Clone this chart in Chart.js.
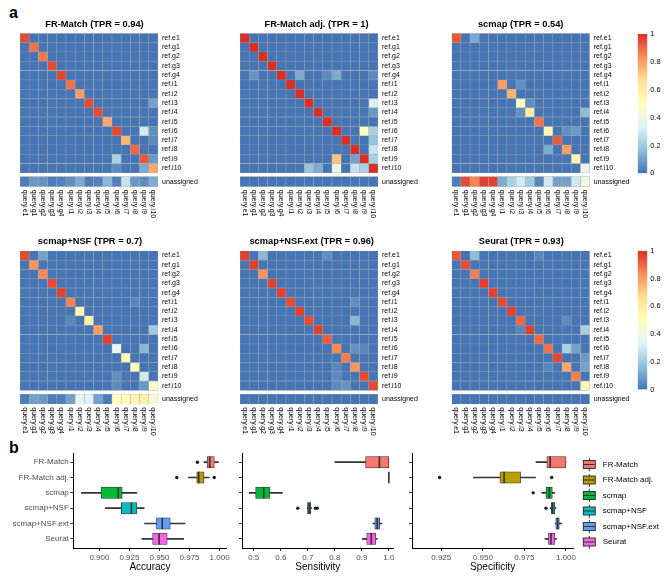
<!DOCTYPE html>
<html>
<head>
<meta charset="utf-8">
<script src="https://cdn.jsdelivr.net/npm/chart.js@4.4.1/dist/chart.umd.min.js"></script>
<style>
  body { margin: 0; width: 666px; height: 576px; position: relative; overflow: hidden; background: #fff; font-family: 'Liberation Sans', Arial, sans-serif; }
  canvas { position: absolute; }
  .tag { position: absolute; font-weight: bold; font-size: 16px; line-height: 16px; }
</style>
</head>
<body>
<div class="tag" style="left:9px;top:5px">a</div>
<div class="tag" style="left:9px;top:440px">b</div>
<script>
/* heatmap labels */
const queries = ['query.e1', 'query.g1', 'query.g2', 'query.g3', 'query.g4', 'query.i1', 'query.i2', 'query.i3',
  'query.i4', 'query.i5', 'query.i6', 'query.i7', 'query.i8', 'query.i9', 'query.i10'];
const refs = ['ref.e1', 'ref.g1', 'ref.g2', 'ref.g3', 'ref.g4', 'ref.i1', 'ref.i2', 'ref.i3',
  'ref.i4', 'ref.i5', 'ref.i6', 'ref.i7', 'ref.i8', 'ref.i9', 'ref.i10'];
const rowLabels = [...refs, 'unassigned'];
const colorbarTicks = [0, 0.2, 0.4, 0.6, 0.8, 1];

/* matching proportions, rows = ref, cols = query */
const frMatch = [
  [.95, 0, 0, 0, 0, 0, 0, 0, 0, 0, 0, 0, 0, 0, 0],
  [0, .88, 0, 0, 0, 0, 0, 0, 0, 0, 0, 0, 0, 0, 0],
  [0, 0, .87, 0, 0, 0, 0, 0, 0, 0, 0, 0, 0, 0, 0],
  [0, 0, 0, .95, 0, 0, 0, 0, 0, 0, 0, 0, 0, 0, 0],
  [0, 0, 0, 0, .96, 0, 0, 0, 0, 0, 0, 0, 0, 0, 0],
  [0, 0, 0, 0, 0, .88, 0, 0, 0, 0, 0, 0, 0, 0, 0],
  [0, 0, 0, 0, 0, 0, .8, 0, 0, 0, 0, 0, 0, 0, 0],
  [0, 0, 0, 0, 0, 0, 0, .95, 0, 0, 0, 0, 0, 0, .1],
  [0, 0, 0, 0, 0, 0, 0, 0, .95, 0, 0, 0, 0, 0, 0],
  [0, 0, 0, 0, 0, 0, 0, 0, 0, .78, 0, 0, 0, 0, 0],
  [0, 0, 0, 0, 0, 0, 0, 0, 0, 0, .95, 0, 0, .3, .06],
  [0, 0, 0, 0, 0, 0, 0, 0, 0, 0, 0, .75, 0, 0, .05],
  [0, 0, 0, 0, 0, 0, 0, 0, 0, 0, 0, 0, .9, 0, 0],
  [0, 0, 0, 0, 0, 0, 0, 0, 0, 0, .22, 0, 0, .93, .08],
  [0, 0, 0, 0, 0, 0, 0, 0, 0, 0, .05, 0, 0, .12, .78],
];
const frMatchUn = [.02, .08, .07, .02, .03, .06, .12, .02, .03, .15, .03, .28, .08, .05, .12];

const frAdj = [
  [1, 0, 0, 0, 0, 0, 0, 0, 0, 0, 0, 0, 0, 0, 0],
  [0, 1, 0, 0, 0, 0, 0, 0, 0, 0, 0, 0, 0, 0, 0],
  [0, 0, 1, 0, 0, 0, 0, 0, 0, 0, 0, 0, 0, 0, 0],
  [0, 0, 0, 1, 0, 0, 0, 0, 0, 0, 0, 0, 0, 0, 0],
  [0, .07, 0, 0, 1, 0, .12, 0, 0, .05, .12, 0, 0, 0, .05],
  [0, 0, 0, 0, 0, 1, 0, 0, 0, 0, 0, 0, 0, 0, 0],
  [0, 0, 0, 0, 0, 0, 1, 0, 0, 0, 0, 0, 0, 0, 0],
  [0, 0, 0, 0, 0, 0, 0, 1, 0, 0, 0, 0, 0, 0, .32],
  [0, 0, 0, 0, 0, 0, 0, 0, 1, 0, 0, 0, 0, 0, .08],
  [0, 0, 0, 0, 0, 0, 0, 0, 0, 1, 0, 0, 0, 0, 0],
  [0, 0, 0, 0, 0, 0, 0, 0, 0, 0, 1, 0, 0, .5, .22],
  [0, 0, 0, 0, 0, 0, 0, 0, 0, 0, 0, 1, 0, 0, .18],
  [0, 0, 0, 0, 0, 0, 0, 0, 0, 0, 0, 0, 1, 0, .28],
  [0, 0, 0, 0, 0, 0, 0, 0, 0, 0, .72, 0, .1, 1, .22],
  [0, 0, 0, 0, 0, 0, 0, .18, .12, 0, .38, 0, .28, .22, 1],
];
const frAdjUn = [0, 0, 0, 0, 0, 0, 0, 0, 0, 0, 0, 0, 0, 0, 0];

const scmap = [
  [.93, 0, .12, 0, 0, 0, 0, 0, 0, 0, 0, 0, 0, 0, 0],
  [0, 0, 0, 0, 0, 0, 0, 0, 0, 0, 0, 0, 0, 0, 0],
  [0, 0, 0, 0, 0, 0, 0, 0, 0, 0, 0, 0, 0, 0, 0],
  [0, 0, 0, 0, 0, 0, 0, 0, 0, 0, 0, 0, 0, 0, 0],
  [0, 0, 0, 0, 0, 0, 0, 0, 0, 0, 0, 0, 0, 0, 0],
  [0, 0, 0, 0, 0, .8, 0, .06, 0, 0, 0, 0, 0, 0, 0],
  [0, 0, 0, 0, 0, 0, .76, 0, 0, 0, 0, 0, 0, 0, 0],
  [0, 0, 0, 0, 0, 0, 0, .5, .06, 0, 0, 0, 0, 0, 0],
  [0, 0, 0, 0, 0, 0, 0, .06, .6, 0, 0, 0, 0, 0, .16],
  [0, 0, 0, 0, 0, 0, 0, 0, 0, .88, 0, 0, 0, 0, 0],
  [0, 0, 0, 0, 0, 0, 0, 0, 0, 0, .55, 0, .06, .08, 0],
  [0, 0, 0, 0, 0, 0, 0, 0, 0, 0, 0, .92, 0, 0, 0],
  [0, 0, 0, 0, 0, 0, 0, 0, 0, 0, .12, 0, .8, 0, 0],
  [0, 0, 0, 0, 0, 0, 0, 0, 0, 0, 0, 0, 0, .55, 0],
  [0, 0, 0, 0, 0, 0, 0, 0, 0, 0, 0, 0, 0, 0, .38],
];
const scmapUn = [.02, .95, .85, .97, .97, .12, .22, .3, .2, .04, .3, .1, .1, .3, .4];

const scmapNsf = [
  [.95, 0, .1, 0, 0, 0, 0, 0, 0, 0, 0, 0, 0, 0, 0],
  [0, .82, 0, 0, 0, 0, 0, 0, 0, 0, 0, 0, 0, 0, 0],
  [0, 0, .84, 0, 0, 0, 0, 0, 0, 0, 0, 0, 0, 0, 0],
  [0, 0, 0, .95, 0, 0, 0, 0, 0, 0, 0, 0, 0, 0, 0],
  [0, 0, 0, 0, .97, 0, 0, 0, 0, 0, 0, 0, 0, 0, 0],
  [0, 0, 0, 0, 0, .85, 0, 0, 0, 0, 0, 0, .04, 0, 0],
  [0, 0, 0, 0, 0, 0, .55, 0, 0, 0, 0, 0, 0, 0, 0],
  [0, 0, 0, 0, 0, .04, 0, .57, 0, 0, 0, 0, 0, 0, 0],
  [0, 0, 0, 0, 0, 0, 0, 0, .8, 0, 0, 0, 0, 0, .2],
  [0, 0, 0, 0, 0, 0, 0, 0, 0, .97, 0, 0, 0, 0, 0],
  [0, 0, 0, 0, 0, 0, 0, 0, 0, 0, .36, 0, 0, .15, 0],
  [0, 0, 0, 0, 0, 0, 0, 0, 0, 0, 0, .52, 0, 0, 0],
  [0, 0, 0, 0, 0, 0, 0, 0, 0, 0, 0, 0, .52, 0, 0],
  [0, 0, 0, 0, 0, 0, 0, 0, 0, 0, .06, 0, 0, .3, 0],
  [0, 0, 0, 0, 0, 0, 0, 0, 0, 0, .05, 0, 0, .08, .47],
];
const scmapNsfUn = [.02, .1, .08, .02, .02, .1, .35, .33, .1, .02, .5, .52, .55, .58, .45];

const scmapNsfExt = [
  [.97, 0, .15, 0, 0, 0, 0, 0, 0, .06, 0, 0, 0, 0, 0],
  [0, .97, 0, 0, 0, 0, 0, 0, 0, 0, 0, 0, 0, 0, 0],
  [0, 0, .82, 0, 0, 0, 0, 0, 0, 0, 0, 0, 0, 0, 0],
  [0, 0, 0, .97, 0, 0, 0, 0, 0, 0, 0, 0, 0, 0, 0],
  [0, 0, 0, 0, .97, 0, 0, 0, 0, 0, 0, 0, 0, 0, 0],
  [0, 0, 0, 0, 0, .95, 0, 0, 0, 0, 0, 0, .06, 0, 0],
  [0, 0, 0, 0, 0, 0, .97, 0, 0, 0, 0, 0, 0, 0, 0],
  [0, 0, 0, 0, 0, 0, 0, .95, 0, 0, 0, 0, .15, 0, 0],
  [0, 0, 0, 0, 0, 0, 0, 0, .97, 0, 0, 0, 0, 0, 0],
  [0, 0, 0, 0, 0, 0, 0, 0, 0, .92, 0, 0, 0, 0, 0],
  [0, 0, 0, 0, 0, 0, 0, 0, 0, 0, .84, 0, .07, .04, 0],
  [0, 0, 0, 0, 0, 0, 0, 0, 0, 0, 0, .86, 0, 0, 0],
  [0, 0, 0, 0, 0, 0, 0, 0, 0, 0, .04, 0, .82, 0, 0],
  [0, 0, 0, 0, 0, 0, 0, 0, 0, 0, .05, 0, 0, .95, 0],
  [0, 0, 0, 0, 0, 0, 0, 0, 0, 0, .05, .07, 0, 0, .95],
];
const scmapNsfExtUn = [0, 0, 0, 0, 0, 0, 0, 0, 0, 0, 0, 0, 0, 0, 0];

const seurat = [
  [.93, 0, .16, 0, 0, 0, 0, 0, 0, .04, 0, 0, 0, 0, 0],
  [0, .95, 0, 0, 0, 0, 0, 0, 0, 0, 0, 0, 0, 0, 0],
  [0, 0, .86, 0, 0, 0, 0, 0, 0, 0, 0, 0, 0, 0, 0],
  [0, 0, 0, .97, 0, 0, 0, 0, 0, 0, 0, 0, 0, 0, 0],
  [0, 0, 0, 0, .97, 0, 0, 0, 0, 0, 0, 0, 0, 0, 0],
  [0, 0, 0, 0, 0, .95, 0, 0, 0, 0, 0, 0, 0, 0, 0],
  [0, 0, 0, 0, 0, 0, .97, 0, 0, 0, 0, 0, 0, 0, 0],
  [0, 0, 0, 0, 0, 0, 0, .9, 0, 0, 0, 0, .05, 0, 0],
  [0, 0, 0, 0, 0, 0, 0, .04, .97, 0, 0, 0, 0, 0, .22],
  [0, 0, 0, 0, 0, 0, 0, 0, 0, .9, 0, 0, 0, 0, 0],
  [0, 0, 0, 0, 0, 0, 0, 0, 0, 0, .88, 0, .22, .1, 0],
  [0, 0, 0, 0, 0, 0, 0, 0, 0, 0, 0, .96, 0, 0, .08],
  [0, 0, 0, 0, 0, 0, 0, 0, 0, 0, .04, 0, .78, 0, .1],
  [0, 0, 0, 0, 0, 0, 0, 0, 0, 0, 0, 0, 0, .86, 0],
  [0, 0, 0, 0, 0, 0, 0, 0, 0, 0, 0, 0, 0, 0, .55],
];
const seuratUn = [0, 0, 0, 0, 0, 0, 0, 0, 0, 0, 0, 0, 0, 0, 0];

/* panel b: per-method box stats */
const methods = ['FR-Match', 'FR-Match adj.', 'scmap', 'scmap+NSF', 'scmap+NSF.ext', 'Seurat'];
const methodColors = ['#F8766D', '#B79F00', '#00BA38', '#00BFC4', '#619CFF', '#F564E3'];

const accLow = [0.987, 0.974, 0.885, 0.905, 0.9375, 0.9353];
const accQ1 = [0.9896, 0.981, 0.9014, 0.9182, 0.9475, 0.9443];
const accMed = [0.9918, 0.9826, 0.9157, 0.9266, 0.9523, 0.9497];
const accQ3 = [0.9956, 0.987, 0.919, 0.9312, 0.9589, 0.9564];
const accHigh = [0.999, 0.9913, 0.9312, 0.9372, 0.9712, 0.9701];
const accOut = [[0.9815], [0.9644, 0.9955], [], [], [], []];
const accTicks = [0.9, 0.925, 0.95, 0.975, 1.0];

const sensLow = [0.8, 1.0, 0.483, 0.698, 0.941, 0.902];
const sensQ1 = [0.914, 1.0, 0.507, 0.699, 0.948, 0.918];
const sensMed = [0.965, 1.0, 0.537, 0.705, 0.957, 0.935];
const sensQ3 = [1.0, 1.0, 0.56, 0.711, 0.966, 0.952];
const sensHigh = [1.0, 1.0, 0.606, 0.714, 0.975, 0.957];
const sensOut = [[], [], [], [0.663, 0.728, 0.735], [], []];
const sensTicks = [0.5, 0.6, 0.7, 0.8, 0.9, 1.0];

const specLow = [0.982, 0.9443, 0.9855, 0.9905, 0.9935, 0.9874];
const specQ1 = [0.9885, 0.9603, 0.988, 0.9912, 0.9939, 0.9895];
const specMed = [0.9905, 0.9628, 0.99, 0.992, 0.995, 0.991];
const specQ3 = [1.0, 0.9727, 0.9918, 0.9933, 0.996, 0.9933];
const specHigh = [1.0, 0.9817, 0.9933, 0.994, 0.9975, 0.9943];
const specOut = [[], [0.924, 0.9914], [0.9803], [0.988], [], []];
const specTicks = [0.925, 0.95, 0.975, 1.0];

const FONT = "'Liberation Sans', Arial, sans-serif";
Chart.defaults.font.family = FONT;
Chart.defaults.color = '#000';
Chart.defaults.animation = false;

// rev(RdYlBu 7)
const RAMP = ['#4575B4', '#91BFDB', '#E0F3F8', '#FFFFBF', '#FEE090', '#FC8D59', '#D73027'];
const hex = (h) => [1, 3, 5].map((i) => parseInt(h.slice(i, i + 2), 16));

function heatColor(v) {
  const t = Math.max(0, Math.min(1, v)) * (RAMP.length - 1);
  const i = Math.min(RAMP.length - 2, Math.floor(t));
  const f = t - i;
  const a = hex(RAMP[i]), b = hex(RAMP[i + 1]);
  return `rgb(${a.map((c, k) => Math.round(c + (b[k] - c) * f)).join(',')})`;
}

function makeCanvas(left, top, w, h) {
  const c = document.createElement('canvas');
  c.width = w;
  c.height = h;
  c.style.left = left + 'px';
  c.style.top = top + 'px';
  document.body.appendChild(c);
  return c;
}

const CELL = 9.3;
const GRID_W = 138;
const AXIS_W = 48;

function drawHeatmap(gridLeft, gridTop, title, titleDx, values, unassigned) {
  const left = Math.floor(gridLeft) - 10;
  const top = Math.floor(gridTop) - 24;
  const padL = gridLeft - left;
  const padT = gridTop - top;
  const w = Math.ceil(padL + GRID_W + AXIS_W);
  const h = Math.ceil(padT + CELL * 16.5 + 46);
  const cellStyle = { grouped: false, categoryPercentage: 1, barPercentage: 1, borderWidth: 0.5, borderColor: '#a8a8a8', borderSkipped: false };

  const datasets = values.map((row, r) => ({
    ...cellStyle,
    data: row.map(() => [r, r + 1]),
    backgroundColor: row.map(heatColor),
  }));
  datasets.push({ ...cellStyle, data: unassigned.map(() => [15.4, 16.5]), backgroundColor: unassigned.map(heatColor) });

  new Chart(makeCanvas(left, top, w, h), {
    type: 'bar',
    data: { labels: queries, datasets },
    options: {
      responsive: false,
      events: [],
      layout: { padding: { left: padL, top: padT, right: w - padL - GRID_W - AXIS_W, bottom: h - padT - CELL * 16.5 } },
      plugins: { legend: { display: false }, tooltip: { enabled: false } },
      scales: {
        x: { display: false },
        y: {
          position: 'right', reverse: true, min: 0, max: 16.5,
          grid: { display: false, drawTicks: false }, border: { display: false },
          afterBuildTicks: (s) => { s.ticks = rowLabels.map((_, i) => ({ value: i < 15 ? i + 0.5 : 15.95 })); },
          afterFit: (s) => { s.width = AXIS_W; },
          ticks: { autoSkip: false, padding: 4, color: '#000', font: { size: 7 }, callback: (v, i) => rowLabels[i] },
        },
      },
    },
    plugins: [{
      id: 'heatText',
      afterDraw(chart) {
        const { ctx, chartArea: a, scales: { x } } = chart;
        ctx.save();
        ctx.fillStyle = '#000';
        ctx.textAlign = 'center';
        ctx.textBaseline = 'middle';
        ctx.font = `bold 9.3px ${FONT}`;
        ctx.fillText(title, (a.left + a.right) / 2 + titleDx, a.top - 9);
        ctx.font = `7px ${FONT}`;
        ctx.textAlign = 'left';
        queries.forEach((q, i) => {
          ctx.save();
          ctx.translate(x.getPixelForValue(i), a.bottom + 3);
          ctx.rotate(Math.PI / 2);
          ctx.fillText(q, 0, 0);
          ctx.restore();
        });
        ctx.restore();
      },
    }],
  });
}

function drawColorbar(barTop, barBottom) {
  const left = 628, top = Math.floor(barTop) - 10;
  const w = 38, h = Math.ceil(barBottom - top + 10);
  const padL = 637.7 - left;
  new Chart(makeCanvas(left, top, w, h), {
    type: 'bar',
    data: {
      labels: [''],
      datasets: [{
        data: [[0, 1]],
        categoryPercentage: 1, barPercentage: 1, borderWidth: 0, borderSkipped: false,
        backgroundColor: (c) => {
          const { chartArea, scales } = c.chart;
          if (!chartArea) return RAMP[0];
          const g = c.chart.ctx.createLinearGradient(0, scales.y.getPixelForValue(0), 0, scales.y.getPixelForValue(1));
          RAMP.forEach((col, i) => g.addColorStop(i / (RAMP.length - 1), col));
          return g;
        },
      }],
    },
    options: {
      responsive: false,
      events: [],
      layout: { padding: { left: padL, top: barTop - top, bottom: h - (barBottom - top), right: 0 } },
      plugins: { legend: { display: false }, tooltip: { enabled: false } },
      scales: {
        x: { display: false },
        y: {
          position: 'right', min: 0, max: 1,
          grid: { display: false, drawTicks: false }, border: { display: false },
          afterBuildTicks: (s) => { s.ticks = colorbarTicks.map((v) => ({ value: v })); },
          afterFit: (s) => { s.width = w - padL - 9.6; },
          ticks: { padding: 3, color: '#000', font: { size: 7.5 }, callback: (v) => String(Math.round(v * 10) / 10) },
        },
      },
    },
  });
}

// legend key: box with median line and whisker stubs, small left margin
function keyImage(color) {
  const c = document.createElement('canvas');
  c.width = 18;
  c.height = 13;
  const g = c.getContext('2d');
  g.strokeStyle = '#333';
  g.lineWidth = 1;
  g.beginPath();
  g.moveTo(8.5, 0); g.lineTo(8.5, 2);
  g.moveTo(8.5, 11); g.lineTo(8.5, 13);
  g.stroke();
  g.fillStyle = color;
  g.fillRect(2, 2, 13, 9);
  g.strokeRect(2.5, 2.5, 12, 8);
  g.beginPath();
  g.moveTo(2, 6.5); g.lineTo(15, 6.5);
  g.stroke();
  return c;
}

function drawBoxes({ left, width, yAxisW, padR, title, low, q1, med, q3, high, out, ticks, xMin, xMax, digits, showNames, legend }) {
  const top = 443, height = 133;
  const outPts = [];
  out.forEach((vals, i) => vals.forEach((v) => outPts.push({ x: v, y: i })));

  new Chart(makeCanvas(left, top, width, height), {
    type: 'bar',
    data: {
      datasets: [
        {
          type: 'scatter', order: 0,
          data: methods.map((m, i) => ({ x: med[i], y: i })),
          pointStyle: 'line', rotation: 90, radius: 5.7, borderWidth: 1.6, borderColor: '#333',
        },
        {
          type: 'scatter', order: 1,
          data: outPts,
          radius: 1.7, backgroundColor: '#1a1a1a', borderWidth: 0,
        },
        {
          indexAxis: 'y', order: 2, grouped: false,
          data: methods.map((m, i) => ({ x: [q1[i], q3[i]], y: i })),
          barThickness: 11.4, backgroundColor: methodColors,
          borderColor: '#333', borderWidth: 0.8, borderSkipped: false,
        },
        {
          indexAxis: 'y', order: 3, grouped: false,
          data: methods.map((m, i) => ({ x: [low[i], high[i]], y: i })),
          barThickness: 1, backgroundColor: '#333', borderWidth: 0,
        },
      ],
    },
    options: {
      responsive: false,
      events: [],
      layout: { padding: { left: 0, top: 10, right: padR, bottom: 0 } },
      plugins: {
        tooltip: { enabled: false },
        legend: legend ? {
          display: true, position: 'right', align: 'start', fullSize: true, maxWidth: 120,
          onClick: () => {},
          labels: {
            usePointStyle: true, pointStyleWidth: 18, padding: 7.5, color: '#000', font: { size: 8 },
            generateLabels: () => methods.map((m, i) => ({
              text: m, pointStyle: keyImage(methodColors[i]), fillStyle: methodColors[i],
              strokeStyle: '#333', lineWidth: 0, hidden: false, datasetIndex: 2,
            })),
          },
        } : { display: false },
      },
      scales: {
        x: {
          type: 'linear', min: xMin, max: xMax, offset: false,
          grid: { drawOnChartArea: false, tickLength: 3, color: '#333', offset: false },
          border: { color: '#000', width: 1 },
          afterBuildTicks: (s) => { s.ticks = ticks.map((v) => ({ value: v })); },
          afterFit: (s) => { s.height = 28; },
          ticks: { padding: 1.5, color: '#4D4D4D', font: { size: 8 }, maxRotation: 0, callback: (v) => v.toFixed(digits) },
          title: { display: true, text: title, color: '#000', font: { size: 10 }, padding: { top: 1, bottom: 3 } },
        },
        y: {
          type: 'linear', reverse: true, min: -0.6, max: 5.6, offset: false,
          grid: { drawOnChartArea: false, tickLength: 3, color: '#333', offset: false },
          border: { color: '#000', width: 1 },
          afterBuildTicks: (s) => { s.ticks = methods.map((_, i) => ({ value: i })); },
          afterFit: (s) => { s.width = yAxisW; },
          ticks: { autoSkip: false, padding: 1.5, color: '#4D4D4D', font: { size: 8 }, callback: (v, i) => (showNames ? methods[i] : '') },
        },
      },
    },
  });
}

drawHeatmap(20, 33.3, 'FR-Match (TPR = 0.94)', 5.5, frMatch, frMatchUn);
drawHeatmap(240, 33.3, 'FR-Match adj. (TPR = 1)', 7.5, frAdj, frAdjUn);
drawHeatmap(451.7, 33.3, 'scmap (TPR = 0.54)', 0, scmap, scmapUn);
drawHeatmap(20, 250.8, 'scmap+NSF (TPR = 0.7)', 1, scmapNsf, scmapNsfUn);
drawHeatmap(240, 250.8, 'scmap+NSF.ext (TPR = 0.96)', 2.7, scmapNsfExt, scmapNsfExtUn);
drawHeatmap(451.7, 250.8, 'Seurat (TPR = 0.93)', 0.6, seurat, seuratUn);
drawColorbar(34, 173.3);
drawColorbar(250.8, 389.5);

drawBoxes({ left: 0, width: 234, yAxisW: 73.3, padR: 4, title: 'Accuracy', low: accLow, q1: accQ1, med: accMed, q3: accQ3, high: accHigh, out: accOut, ticks: accTicks, xMin: 0.8783, xMax: 1.0059, digits: 3, showNames: true, legend: false });
drawBoxes({ left: 232, width: 169, yAxisW: 10, padR: 4, title: 'Sensitivity', low: sensLow, q1: sensQ1, med: sensMed, q3: sensQ3, high: sensHigh, out: sensOut, ticks: sensTicks, xMin: 0.4565, xMax: 1.018, digits: 1, showNames: false, legend: false });
drawBoxes({ left: 402, width: 269, yAxisW: 10, padR: 2, title: 'Specificity', low: specLow, q1: specQ1, med: specMed, q3: specQ3, high: specHigh, out: specOut, ticks: specTicks, xMin: 0.9074, xMax: 1.0044, digits: 3, showNames: false, legend: true });
</script>
</body>
</html>
